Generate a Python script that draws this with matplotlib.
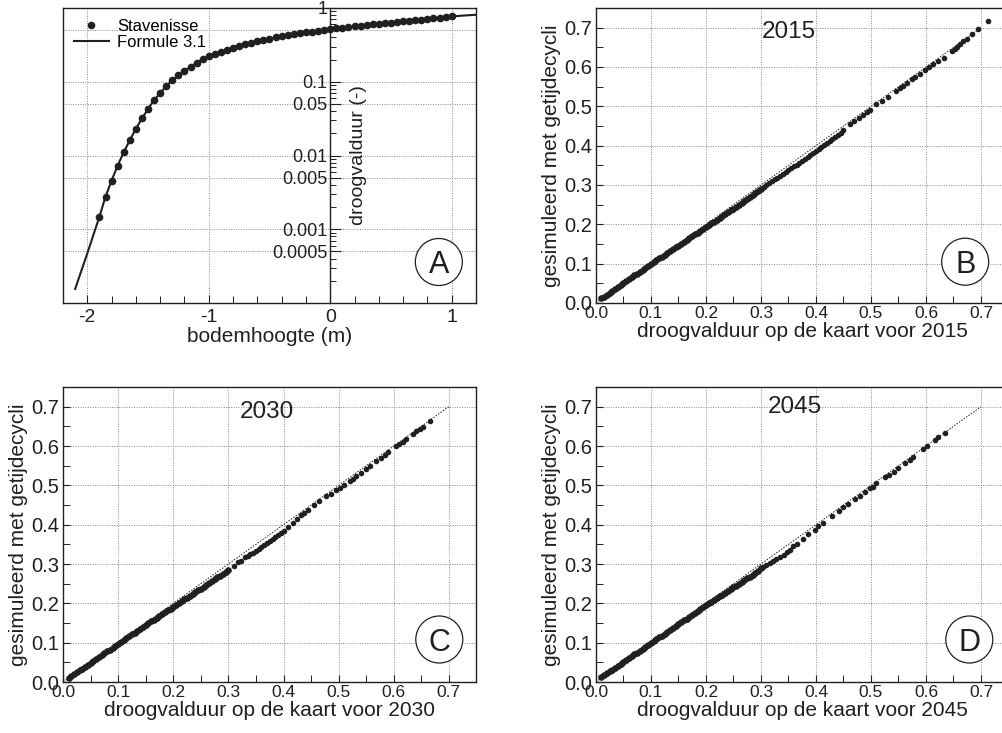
import numpy as np
import matplotlib.pyplot as plt
from matplotlib.patches import Ellipse
from matplotlib.ticker import FixedLocator, MultipleLocator, FormatStrFormatter, NullFormatter

plt.rcParams['font.family'] = ['Liberation Sans', 'DejaVu Sans']
ink = '#231f20'

# panel A: drooglegging as function of bed level
stav_z = [-1.90, -1.85, -1.80, -1.75, -1.70, -1.65, -1.60, -1.55, -1.50, -1.45,
          -1.40, -1.35, -1.30, -1.25, -1.20, -1.15, -1.10, -1.05, -1.00, -0.95,
          -0.90, -0.85, -0.80, -0.75, -0.70, -0.65, -0.60, -0.55, -0.50, -0.45,
          -0.40, -0.35, -0.30, -0.25, -0.20, -0.15, -0.10, -0.05, 0.00, 0.05,
          0.10, 0.15, 0.20, 0.25, 0.30, 0.35, 0.40, 0.45, 0.50, 0.55,
          0.60, 0.65, 0.70, 0.75, 0.80, 0.85, 0.90, 0.95, 1.00]
stav_d = [0.00148, 0.00277, 0.00458, 0.0073, 0.0111, 0.0161, 0.023, 0.0318, 0.0426, 0.0564,
          0.0702, 0.0874, 0.104, 0.122, 0.140, 0.160, 0.181, 0.203, 0.221, 0.238,
          0.255, 0.272, 0.290, 0.305, 0.320, 0.338, 0.353, 0.368, 0.383, 0.400,
          0.413, 0.426, 0.440, 0.453, 0.467, 0.477, 0.493, 0.503, 0.519, 0.530,
          0.541, 0.550, 0.565, 0.575, 0.587, 0.600, 0.610, 0.620, 0.635, 0.645,
          0.660, 0.670, 0.685, 0.695, 0.710, 0.725, 0.740, 0.755, 0.770]
form_z = [-2.10, -2.00] + stav_z + [1.10, 1.20]
form_d = [0.000155, 0.00047] + stav_d + [0.790, 0.810]

# panels B-D: map value vs simulated with tidal cycles
dense_x = [0.010, 0.015, 0.020, 0.025, 0.030, 0.035, 0.040, 0.045, 0.050, 0.055,
           0.060, 0.065, 0.070, 0.075, 0.080, 0.085, 0.090, 0.095, 0.100, 0.105,
           0.110, 0.115, 0.120, 0.125, 0.130, 0.135, 0.140, 0.145, 0.150, 0.155,
           0.160, 0.165, 0.170, 0.175, 0.180, 0.185, 0.190, 0.195, 0.200, 0.205,
           0.210, 0.215, 0.220, 0.225, 0.230, 0.235, 0.240, 0.245, 0.250, 0.255,
           0.260, 0.265, 0.270, 0.275, 0.280, 0.285, 0.290, 0.295, 0.300]

b_dense_y = [0.012, 0.016, 0.021, 0.026, 0.031, 0.036, 0.041, 0.046, 0.051, 0.056,
             0.060, 0.065, 0.070, 0.075, 0.080, 0.085, 0.090, 0.095, 0.099, 0.104,
             0.109, 0.114, 0.118, 0.123, 0.128, 0.132, 0.137, 0.142, 0.146, 0.151,
             0.156, 0.160, 0.165, 0.170, 0.175, 0.179, 0.184, 0.189, 0.193, 0.198,
             0.203, 0.207, 0.212, 0.217, 0.222, 0.226, 0.231, 0.236, 0.240, 0.245,
             0.250, 0.255, 0.259, 0.264, 0.269, 0.274, 0.279, 0.284, 0.289]
b_x = [0.305, 0.31, 0.315, 0.32, 0.325, 0.33, 0.335, 0.34, 0.345, 0.35, 0.355, 0.36,
       0.365, 0.37, 0.375, 0.38, 0.385, 0.39, 0.395, 0.40, 0.405, 0.41, 0.415, 0.42,
       0.425, 0.43, 0.435, 0.44, 0.445, 0.45, 0.462, 0.47, 0.478, 0.485, 0.492, 0.498,
       0.510, 0.520, 0.531, 0.545, 0.553, 0.558, 0.565, 0.575, 0.580, 0.590, 0.598,
       0.605, 0.613, 0.622, 0.632, 0.648, 0.652, 0.656, 0.662, 0.668, 0.674, 0.683,
       0.694, 0.713]
b_y = [0.295, 0.300, 0.305, 0.310, 0.314, 0.319, 0.324, 0.329, 0.333, 0.338, 0.343, 0.348,
       0.352, 0.357, 0.362, 0.367, 0.371, 0.376, 0.381, 0.386, 0.391, 0.396, 0.401, 0.406,
       0.411, 0.416, 0.421, 0.427, 0.433, 0.439, 0.455, 0.462, 0.470, 0.478, 0.486, 0.491,
       0.505, 0.514, 0.525, 0.538, 0.546, 0.551, 0.559, 0.569, 0.575, 0.583, 0.592,
       0.600, 0.607, 0.616, 0.624, 0.641, 0.646, 0.650, 0.658, 0.665, 0.672, 0.684,
       0.696, 0.717]

c_dense_y = [0.011, 0.016, 0.020, 0.025, 0.030, 0.034, 0.039, 0.044, 0.049, 0.054,
             0.058, 0.063, 0.068, 0.073, 0.078, 0.082, 0.087, 0.092, 0.097, 0.102,
             0.106, 0.111, 0.116, 0.121, 0.125, 0.130, 0.135, 0.140, 0.144, 0.149,
             0.154, 0.158, 0.163, 0.168, 0.172, 0.177, 0.182, 0.186, 0.191, 0.196,
             0.200, 0.205, 0.210, 0.214, 0.219, 0.224, 0.228, 0.233, 0.237, 0.242,
             0.247, 0.251, 0.256, 0.261, 0.266, 0.270, 0.275, 0.280, 0.286]
c_x = [0.310, 0.317, 0.322, 0.331, 0.335, 0.340, 0.345, 0.350, 0.355, 0.360, 0.365,
       0.370, 0.375, 0.380, 0.385, 0.390, 0.395, 0.400, 0.408, 0.417, 0.425, 0.432,
       0.438, 0.444, 0.456, 0.465, 0.477, 0.486, 0.495, 0.502, 0.510, 0.520, 0.526,
       0.532, 0.540, 0.550, 0.556, 0.568, 0.576, 0.584, 0.589, 0.604, 0.610, 0.616,
       0.622, 0.634, 0.640, 0.647, 0.653, 0.665]
c_y = [0.296, 0.304, 0.307, 0.317, 0.321, 0.325, 0.329, 0.334, 0.339, 0.344, 0.349,
       0.353, 0.358, 0.363, 0.368, 0.373, 0.378, 0.383, 0.393, 0.404, 0.414, 0.424,
       0.430, 0.437, 0.451, 0.460, 0.472, 0.479, 0.487, 0.493, 0.500, 0.510, 0.516,
       0.524, 0.531, 0.542, 0.549, 0.562, 0.569, 0.578, 0.585, 0.600, 0.605, 0.610,
       0.619, 0.631, 0.637, 0.643, 0.649, 0.664]

d_dense_y = [0.012, 0.017, 0.022, 0.027, 0.031, 0.036, 0.041, 0.046, 0.051, 0.055,
             0.060, 0.065, 0.070, 0.075, 0.080, 0.085, 0.090, 0.094, 0.099, 0.104,
             0.109, 0.114, 0.118, 0.123, 0.128, 0.133, 0.138, 0.142, 0.147, 0.152,
             0.157, 0.161, 0.166, 0.171, 0.176, 0.181, 0.185, 0.190, 0.195, 0.200,
             0.204, 0.209, 0.213, 0.218, 0.222, 0.227, 0.231, 0.236, 0.241, 0.245,
             0.250, 0.254, 0.259, 0.264, 0.268, 0.273, 0.278, 0.283, 0.289]
d_x = [0.304, 0.310, 0.316, 0.322, 0.328, 0.334, 0.341, 0.347, 0.353, 0.359, 0.365,
       0.377, 0.386, 0.398, 0.404, 0.413, 0.429, 0.441, 0.450, 0.459, 0.471, 0.480,
       0.489, 0.498, 0.504, 0.510, 0.525, 0.532, 0.541, 0.550, 0.562, 0.571, 0.577,
       0.595, 0.601, 0.616, 0.622, 0.635]
d_y = [0.292, 0.298, 0.302, 0.308, 0.312, 0.318, 0.323, 0.330, 0.336, 0.345, 0.352,
       0.364, 0.377, 0.386, 0.397, 0.405, 0.422, 0.434, 0.445, 0.453, 0.466, 0.474,
       0.483, 0.492, 0.497, 0.505, 0.520, 0.526, 0.535, 0.544, 0.556, 0.564, 0.573,
       0.592, 0.599, 0.614, 0.622, 0.634]

years = ['2015', '2030', '2045']
year_pos = [(0.35, 0.69), (0.37, 0.687), (0.362, 0.698)]
letters = ['B', 'C', 'D']
letter_pos = [(0.895, 0.14), (0.910, 0.144), (0.905, 0.144)]

W, H = 1003, 733
fig = plt.figure(figsize=(W / 100, H / 100), dpi=100)


def px_axes(l, t, r, b):
    return fig.add_axes([l / W, 1 - b / H, (r - l) / W, (b - t) / H])


def circle_label(ax, pos, letter):
    bb = ax.get_position()
    rw = 47 / (bb.width * W)
    rh = 47 / (bb.height * H)
    ax.add_patch(Ellipse(pos, rw, rh, transform=ax.transAxes, fc='white',
                         ec=ink, lw=0.9, zorder=5))
    ax.text(pos[0], pos[1], letter, transform=ax.transAxes, ha='center',
            va='center_baseline', fontsize=22, color=ink, zorder=6)


def frame(ax):
    for s in ax.spines.values():
        s.set_linewidth(1.0)
        s.set_color(ink)


# ---- panel A
axA = px_axes(63, 8, 476, 303)
axA.set_yscale('log')
axA.plot(form_z, form_d, '-', color=ink, lw=1.5, label='Formule 3.1', zorder=3)
axA.plot(stav_z, stav_d, 'o', color=ink, ms=4.5, label='Stavenisse', zorder=4)
axA.set_xlim(-2.2, 1.2)
axA.set_ylim(1e-4, 1)
frame(axA)
axA.spines['left'].set_position(('data', 0))
axA.plot([0, 0], [0, 1], transform=axA.transAxes, color=ink, lw=1.0, clip_on=False)
yt = [0.0005, 0.001, 0.005, 0.01, 0.05, 0.1, 0.5, 1]
ytl = ['0.0005', '0.001', '0.005', '0.01', '0.05', '0.1', '', '1']
axA.yaxis.set_major_locator(FixedLocator(yt))
axA.set_yticklabels(ytl)
axA.yaxis.set_minor_locator(FixedLocator(
    [k * 10.0 ** e for e in range(-4, 0) for k in (2, 3, 4, 6, 7, 8, 9)]))
axA.yaxis.set_minor_formatter(NullFormatter())
axA.xaxis.set_major_locator(MultipleLocator(1))
axA.xaxis.set_minor_locator(MultipleLocator(0.2))
axA.xaxis.set_major_formatter(FormatStrFormatter('%d'))
axA.tick_params(axis='y', which='major', direction='in', length=8, width=0.8,
                labelsize=13, pad=2, colors=ink)
axA.tick_params(axis='y', which='minor', direction='in', length=4, width=0.6)
axA.tick_params(axis='x', which='major', direction='in', length=6, width=0.8,
                labelsize=14, pad=4, colors=ink)
axA.tick_params(axis='x', which='minor', direction='in', length=5, width=0.6)
axA.grid(True, which='major', ls=(0, (1, 1.5)), lw=0.7, color='#8a8a8a')
axA.set_xlabel('bodemhoogte (m)', fontsize=15, color=ink, labelpad=1)
axA.set_ylabel('droogvalduur (-)', fontsize=14, color=ink)
axA.yaxis.set_label_coords(0.736, 0.5)
handles, labels = axA.get_legend_handles_labels()
axA.legend(handles[::-1], labels[::-1], loc='upper left', frameon=False,
           fontsize=12, numpoints=1, handlelength=2.1, handletextpad=0.5,
           labelspacing=0.05, borderaxespad=0.25)
circle_label(axA, (0.910, 0.139), 'A')

# ---- panels B, C, D
boxes = [(596, 8, 1008.5, 303), (63, 387, 476.5, 682), (596, 387, 1008.5, 682)]
tails_x = [b_x, c_x, d_x]
tails_y = [b_y, c_y, d_y]
dense_y = [b_dense_y, c_dense_y, d_dense_y]
for i in range(3):
    ax = px_axes(*boxes[i])
    ax.plot([0, 0.7], [0, 0.7], color=ink, lw=0.7, ls=(0, (1.5, 1.5)), zorder=2)
    ax.plot(dense_x, dense_y[i], 'o', color=ink, ms=4.8, mew=0, zorder=3)
    ax.plot(tails_x[i], tails_y[i], 'o', color=ink, ms=4.0, mew=0, zorder=3)
    ax.set_xlim(0, 0.75)
    ax.set_ylim(0, 0.75)
    frame(ax)
    for a in (ax.xaxis, ax.yaxis):
        a.set_major_locator(MultipleLocator(0.1))
        a.set_minor_locator(MultipleLocator(0.05))
        a.set_major_formatter(FormatStrFormatter('%.1f'))
    ax.tick_params(which='major', direction='in', length=5, width=0.8, colors=ink)
    ax.tick_params(which='minor', direction='in', length=5, width=0.6)
    ax.tick_params(axis='y', pad=3, labelsize=14.5)
    ax.tick_params(axis='x', pad=2, labelsize=12.5)
    ax.grid(True, which='major', ls=(0, (1, 1.5)), lw=0.7, color='#8a8a8a')
    ax.set_xlabel('droogvalduur op de kaart voor ' + years[i], fontsize=15,
                  color=ink, labelpad=1)
    ax.set_ylabel('gesimuleerd met getijdecycli', fontsize=15, color=ink,
                  labelpad=2)
    ax.text(year_pos[i][0], year_pos[i][1], years[i], ha='center', va='center',
            fontsize=17.5, color=ink)
    circle_label(ax, letter_pos[i], letters[i])

plt.savefig('out.png', dpi=100)
